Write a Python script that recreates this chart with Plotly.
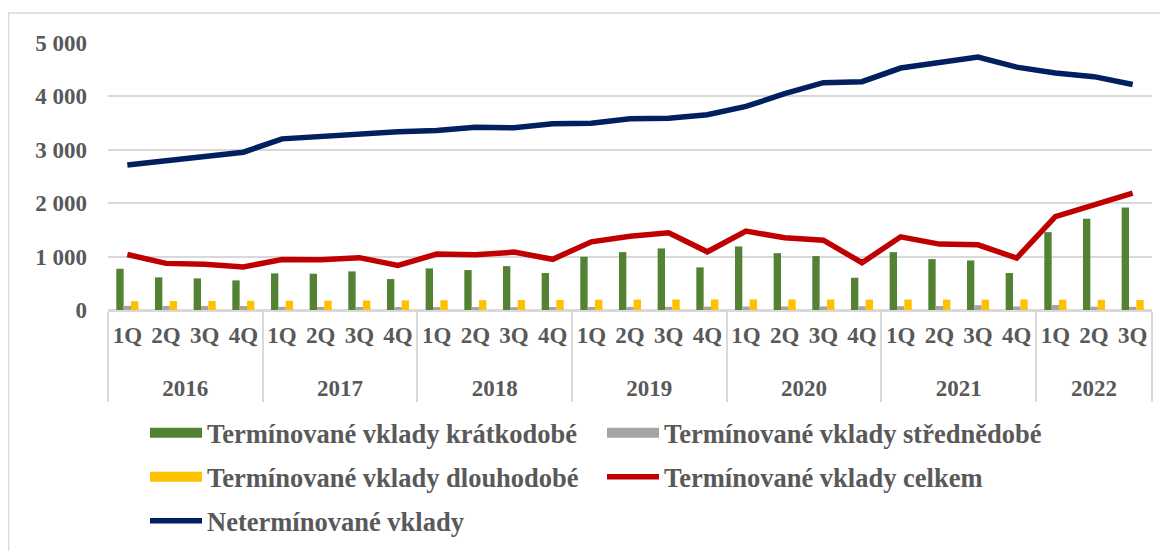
import plotly.graph_objects as go

years = ["2016"] * 4 + ["2017"] * 4 + ["2018"] * 4 + ["2019"] * 4 + ["2020"] * 4 + ["2021"] * 4 + ["2022"] * 3
quarters = ["1Q", "2Q", "3Q", "4Q"] * 6 + ["1Q", "2Q", "3Q"]

kratkodobe = [772, 611, 592, 555, 686, 679, 723, 579, 779, 748, 822, 692, 997, 1084,
              1153, 798, 1190, 1065, 1009, 604, 1084, 953, 928, 692, 1458, 1707, 1919]
strednedobe = [78, 76, 75, 74, 60, 58, 57, 56, 55, 55, 54, 56, 57, 58,
               60, 62, 64, 66, 68, 70, 72, 74, 90, 66, 95, 62, 60]
dlouhodobe = [165, 168, 170, 172, 174, 175, 178, 180, 183, 185, 187, 190, 192, 195,
              197, 198, 198, 197, 196, 195, 196, 195, 194, 197, 193, 190, 188]
celkem = [1040, 873, 855, 805, 947, 941, 980, 835, 1047, 1034, 1084, 950, 1277, 1380,
          1445, 1090, 1477, 1352, 1308, 885, 1371, 1234, 1221, 972, 1750, 1963, 2187]
netermin = [2715, 2800, 2880, 2955, 3205, 3255, 3293, 3338, 3362, 3424, 3412, 3487, 3499, 3581,
            3590, 3656, 3812, 4050, 4257, 4276, 4531, 4632, 4737, 4548, 4440, 4370, 4222]

names = ["Termínované vklady krátkodobé", "Termínované vklady střednědobé",
         "Termínované vklady dlouhodobé", "Termínované vklady celkem", "Netermínované vklady"]
colors = ["#548235", "#A5A5A5", "#FFC000", "#C00000", "#002060"]
# which legend row each entry sits in
rows = ["legend", "legend", "legend2", "legend2", "legend3"]

# empty line above the year pushes it lower, as in the original
x = [["<br>" + y for y in years], quarters]

# page body has an 8px margin, so the figure is 8px smaller than the window
W, H = 1160, 543
L, R, T, B = 100, 16, 35, 241
txt = "#595959"
font = dict(family="Liberation Serif", size=23, color=txt, weight="bold")
lfont = dict(family="Liberation Serif", size=26.5, color=txt, weight="bold")

fig = go.Figure()
for vals, c in zip([kratkodobe, strednedobe, dlouhodobe], colors[:3]):
    fig.add_trace(go.Bar(x=x, y=vals, marker_color=c, marker_line_width=0, showlegend=False))

# legend entries for the bars drawn as wide blocks, like the original
for n, c, lg in zip(names[:3], colors[:3], rows[:3]):
    fig.add_trace(go.Scatter(x=x, y=[None] * len(quarters), mode="lines", name=n,
                             line=dict(color=c, width=13), legend=lg))

fig.add_trace(go.Scatter(x=x, y=celkem, mode="lines", name=names[3], legend=rows[3],
                         line=dict(color=colors[3], width=5.5)))
fig.add_trace(go.Scatter(x=x, y=netermin, mode="lines", name=names[4], legend=rows[4],
                         line=dict(color=colors[4], width=5.5)))

pw = W - L - R
ph = H - T - B
fig.add_shape(type="rect", xref="paper", yref="paper",
              x0=(0.5 - L) / pw, x1=(W + 20 - L) / pw,
              y0=-(H + 20 - T - ph) / ph, y1=(ph + T - 5) / ph,
              line=dict(color="#D9D9D9", width=1.5), layer="below")


def leg(ycenter):
    return dict(orientation="h", xref="container", yref="container",
                x=137 / W, xanchor="left", y=(H - ycenter) / H, yanchor="middle",
                entrywidth=390, entrywidthmode="pixels", itemwidth=52,
                font=lfont, traceorder="normal", bgcolor="rgba(0,0,0,0)")


fig.update_layout(
    width=W, height=H,
    margin=dict(l=L, r=R, t=T, b=B, autoexpand=False),
    plot_bgcolor="white", paper_bgcolor="white",
    separators=". ",
    barmode="group", bargap=0.43, bargroupgap=0,
    font=font,
    legend=leg(425), legend2=leg(469), legend3=leg(513),
    xaxis=dict(type="multicategory", showline=True, linecolor="#D9D9D9", linewidth=1.5,
               showdividers=True, dividercolor="#D9D9D9", dividerwidth=1.5,
               ticks="", tickfont=font, tickangle=0, ticklabelstandoff=4,
               showgrid=False, automargin=False),
    yaxis=dict(range=[0, 5000], dtick=1000, tickformat=",d", showgrid=True,
               gridcolor="#D9D9D9", gridwidth=1.5, zeroline=True, zerolinecolor="#D9D9D9",
               zerolinewidth=1.5, ticks="", tickfont=font, ticklabelstandoff=20,
               automargin=False),
)

fig.write_html("out.html")
